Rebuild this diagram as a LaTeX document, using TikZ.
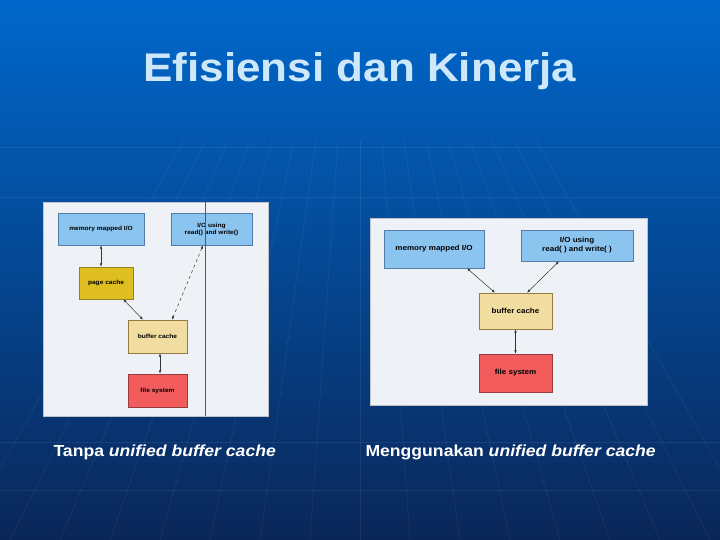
\documentclass[tikz,border=0pt]{standalone}
\usepackage{fontspec}
\setmainfont{Liberation Sans}[FakeStretch=1.1]
\usetikzlibrary{arrows.meta,positioning}
\definecolor{slidetop}{RGB}{0,104,204}
\definecolor{slidemid}{RGB}{12,74,160}
\definecolor{slidebot}{RGB}{10,38,88}
\definecolor{panelgray}{RGB}{238,241,246}
\definecolor{iofill}{RGB}{140,196,240}
\definecolor{iodraw}{RGB}{84,124,168}
\definecolor{pagefill}{RGB}{222,190,32}
\definecolor{pagedraw}{RGB}{150,128,30}
\definecolor{buffill}{RGB}{241,221,160}
\definecolor{bufdraw}{RGB}{150,122,64}
\definecolor{fsfill}{RGB}{242,92,92}
\definecolor{fsdraw}{RGB}{150,60,60}
\definecolor{titletext}{RGB}{204,232,250}
\definecolor{splitline}{RGB}{45,90,180}
\tikzset{
  panel/.style={fill=panelgray, draw=panelgray!80!black, line width=0.4pt},
  cell/.style={draw, line width=0.6pt, align=center, inner sep=1pt, font=\bfseries\fontsize{6}{7}\selectfont},
  bigcell/.style={cell, font=\bfseries\fontsize{7.3}{9}\selectfont},
  iobox/.style={fill=iofill, draw=iodraw},
  pagebox/.style={fill=pagefill, draw=pagedraw},
  bufbox/.style={fill=buffill, draw=bufdraw},
  fsbox/.style={fill=fsfill, draw=fsdraw},
  link/.style={{Latex[length=3.4pt,width=2.6pt]}-{Latex[length=3.4pt,width=2.6pt]}, black!80, line width=0.5pt},
  caption/.style={anchor=base west, text=white, font=\bfseries\fontsize{16}{19}\selectfont},
  gridline/.style={white, opacity=0.07, line width=0.6pt}
}

\begin{document}
\begin{tikzpicture}[x=1pt,y=-1pt]
  \useasboundingbox (0,0) rectangle (720,540);
  \shade[top color=slidetop, middle color=slidemid, bottom color=slidebot] (0,0) rectangle (720,540);
  % faint background grid
  \foreach \yy in {147,197,442,490} \draw[gridline] (0,\yy) -- (720,\yy);
  \foreach \k in {-8,...,8} \draw[gridline] (360+\k*22,140) -- (360+\k*50,540);

  \node (title) [anchor=base, text=titletext, font=\bfseries\fontsize{40}{46}\selectfont] at (360,82) {Efisiensi dan Kinerja};

  % tanpa unified buffer cache
  \draw[panel] (43,202) rectangle (268,416);
  \node (lmem) [cell, iobox, minimum width=86pt, minimum height=32pt] at (101,229) {memory mapped I/O};
  \node (lio) [cell, iobox, minimum width=81pt, minimum height=32pt] at (211.5,229) {I/O using\\read() and write()};
  \node (lpage) [cell, pagebox, minimum width=54pt, minimum height=32pt] at (106,283) {page cache};
  \node (lbuf) [cell, bufbox, minimum width=59pt, minimum height=33pt] at (157.5,336.5) {buffer cache};
  \node (lfs) [cell, fsbox, minimum width=59pt, minimum height=33pt] at (157.5,390.5) {file system};
  \draw[link] (lmem.south) -- (lmem.south |- lpage.north);
  \draw[link] ([xshift=-10pt]lpage.south east) -- ([xshift=-14.5pt]lbuf.north);
  \draw[link, dashed] ([xshift=-8.5pt]lio.south) -- ([xshift=14.5pt]lbuf.north);
  \draw[link] ([xshift=2.5pt]lbuf.south) -- ([xshift=2.5pt]lfs.north);
  \draw[splitline, line width=0.8pt] (205,202) -- (205,416);

  % menggunakan unified buffer cache
  \draw[panel] (370,218) rectangle (647,405);
  \node (rmem) [bigcell, iobox, minimum width=100pt, minimum height=38pt] at (434,249) {memory mapped I/O};
  \node (rio) [bigcell, iobox, minimum width=112pt, minimum height=31pt] at (577,245.5) {I/O using\\read( ) and write( )};
  \node (rbuf) [bigcell, bufbox, minimum width=73pt, minimum height=36pt] at (515.5,311) {buffer cache};
  \node (rfs) [bigcell, fsbox, minimum width=73pt, minimum height=38pt] at (515.5,373) {file system};
  \draw[link] ([xshift=33pt]rmem.south) -- ([xshift=-20.5pt]rbuf.north);
  \draw[link] ([xshift=-18pt]rio.south) -- ([xshift=11.5pt]rbuf.north);
  \draw[link] (rbuf.south) -- (rfs.north);

  \node (lcap) [caption] at (50,456) {Tanpa \textit{unified buffer cache}};
  \node (rcap) [caption] at (362,456) {Menggunakan \textit{unified buffer cache}};
\end{tikzpicture}
\end{document}
